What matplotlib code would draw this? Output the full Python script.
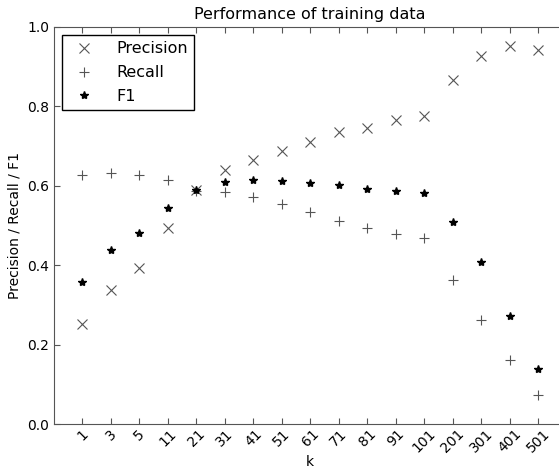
import matplotlib
matplotlib.use('Agg')
import matplotlib.pyplot as plt
import numpy as np

k_labels = ['1', '3', '5', '11', '21', '31', '41', '51', '61', '71', '81', '91',
            '101', '201', '301', '401', '501']
precision = [0.252, 0.338, 0.393, 0.493, 0.590, 0.641, 0.664, 0.687, 0.710,
             0.735, 0.745, 0.766, 0.775, 0.866, 0.927, 0.952, 0.943]
recall = [0.627, 0.631, 0.627, 0.614, 0.587, 0.585, 0.573, 0.553, 0.533,
          0.512, 0.493, 0.478, 0.468, 0.363, 0.262, 0.160, 0.074]
f1 = [0.358, 0.438, 0.480, 0.545, 0.589, 0.610, 0.614, 0.611, 0.607,
      0.603, 0.592, 0.588, 0.582, 0.510, 0.409, 0.273, 0.139]

x = np.arange(1, len(k_labels) + 1)

fig = plt.figure(figsize=(5.59, 4.72), dpi=100)
ax = fig.add_axes([54 / 559, 48 / 472, 512.5 / 559, 397 / 472])

ax.plot(x, precision, 'x', color='#555555', markersize=6.5, markeredgewidth=0.8, label='Precision')
ax.plot(x, recall, '+', color='#555555', markersize=7, markeredgewidth=0.8, label='Recall')
ax.plot(x, f1, '*', color='black', markersize=6, label='F1')

ax.set_xlim(0, 18)
ax.set_ylim(0, 1.0)
ax.set_xticks(x)
ax.set_xticklabels(k_labels, rotation=45)
ax.set_yticks([0.0, 0.2, 0.4, 0.6, 0.8, 1.0])
ax.tick_params(direction='in', top=True, right=True, labelsize=10, length=4, color='#555555')
ax.tick_params(axis='x', pad=2)
for s in ax.spines.values():
    s.set_color('#555555')

ax.set_xlabel('k', fontsize=10, labelpad=0)
ax.set_ylabel('Precision / Recall / F1', fontsize=10)
ax.set_title('Performance of training data', fontsize=11.5)

leg = ax.legend(loc='upper left', fontsize=11.5, numpoints=1, fancybox=False,
                framealpha=1, borderaxespad=0.5, handlelength=2.0,
                labelspacing=0.55, handletextpad=1.0, borderpad=0.4)
leg.get_frame().set_edgecolor('black')

fig.savefig('out.png', dpi=100)
